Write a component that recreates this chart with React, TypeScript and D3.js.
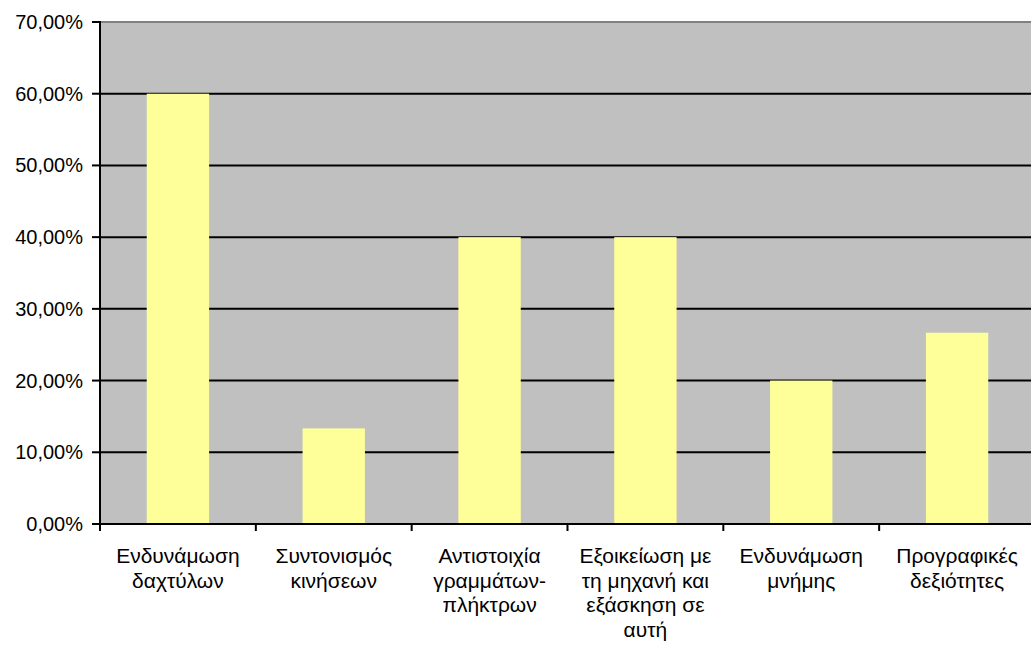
import React from "react";
import * as d3 from "d3";

const categories: string[][] = [
  ["Ενδυνάμωση", "δαχτύλων"],
  ["Συντονισμός", "κινήσεων"],
  ["Αντιστοιχία", "γραμμάτων-", "πλήκτρων"],
  ["Εξοικείωση με", "τη μηχανή και", "εξάσκηση σε", "αυτή"],
  ["Ενδυνάμωση", "μνήμης"],
  ["Προγραφικές", "δεξιότητες"],
];
const values: number[] = [0.6, 0.1333, 0.4, 0.4, 0.2, 0.2667];
const yTicks: number[] = [0, 0.1, 0.2, 0.3, 0.4, 0.5, 0.6, 0.7];

const W = 1031;
const H = 646;
const left = 100;
const right = 1035;
const top = 22;
const bottom = 524;
const font = "'Liberation Sans', Arial, sans-serif";

export default function App() {
  const idx = categories.map((_, i) => i);
  const x = d3.scaleBand<number>().domain(idx).range([left, right]).paddingInner(0).paddingOuter(0);
  const y = d3.scaleLinear().domain([0, 0.7]).range([bottom, top]);
  const bw = x.bandwidth();
  const barW = bw / 2.5;
  const fmt = (v: number) => (v * 100).toFixed(2).replace(".", ",") + "%";

  return (
    <div style={{ position: "fixed", left: 0, top: 0, width: W, height: H, background: "#fff" }}>
      <svg width={W} height={H} style={{ display: "block" }}>
        <rect x={left} y={top} width={right - left} height={bottom - top} fill="#C0C0C0" />
        <line x1={left} x2={right} y1={top} y2={top} stroke="#808080" strokeWidth={2} />
        {yTicks.slice(1, -1).map((t) => (
          <line key={t} x1={left} x2={right} y1={y(t)} y2={y(t)} stroke="#000" strokeWidth={2} />
        ))}
        {values.map((v, i) => (
          <rect
            key={i}
            x={(x(i) as number) + (bw - barW) / 2}
            y={y(v)}
            width={barW}
            height={bottom - y(v)}
            fill="#FFFF99"
          />
        ))}
        <line x1={left} x2={left} y1={top - 1} y2={bottom + 1} stroke="#000" strokeWidth={2} />
        <line x1={left - 1} x2={right} y1={bottom} y2={bottom} stroke="#000" strokeWidth={2} />
        {yTicks.map((t) => (
          <g key={t}>
            <line x1={left - 8} x2={left} y1={y(t)} y2={y(t)} stroke="#000" strokeWidth={2} />
            <text
              x={left - 17}
              y={y(t)}
              dy="0.35em"
              textAnchor="end"
              fontFamily={font}
              fontSize={20}
              fill="#000"
            >
              {fmt(t)}
            </text>
          </g>
        ))}
        {d3.range(categories.length + 1).map((i) => {
          const xx = left + i * bw;
          return <line key={i} x1={xx} x2={xx} y1={bottom} y2={bottom + 7} stroke="#000" strokeWidth={2} />;
        })}
        {categories.map((lines, i) => (
          <text
            key={i}
            x={(x(i) as number) + bw / 2}
            y={563}
            textAnchor="middle"
            fontFamily={font}
            fontSize={21}
            fill="#000"
          >
            {lines.map((l, j) => (
              <tspan key={j} x={(x(i) as number) + bw / 2} y={563 + j * 24.5}>
                {l}
              </tspan>
            ))}
          </text>
        ))}
      </svg>
    </div>
  );
}
